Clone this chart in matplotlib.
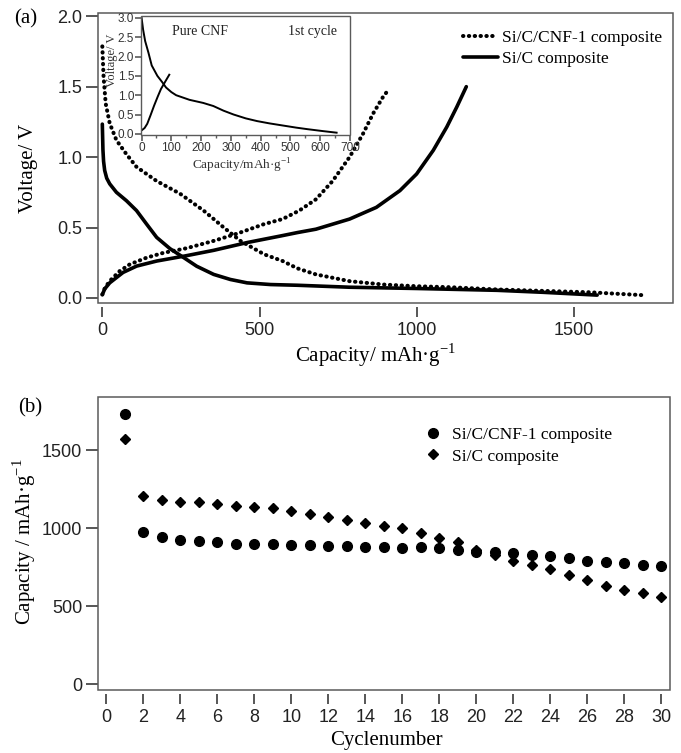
import matplotlib
matplotlib.use("Agg")
import matplotlib.pyplot as plt
from matplotlib.patches import Rectangle
from matplotlib.lines import Line2D

# ---------------- data ----------------
# panel (a): Si/C/CNF-1 composite (dotted)
cnf_dis_cap = [0, 4, 10.7, 23.5, 44.8, 76.8, 108.8, 172.7, 247, 322, 386, 439, 514, 573, 620, 679, 786, 893, 999, 1106, 1255, 1400, 1550, 1716]
cnf_dis_v = [1.786, 1.57, 1.38, 1.24, 1.12, 1.02, 0.93, 0.83, 0.74, 0.62, 0.50, 0.405, 0.31, 0.262, 0.21, 0.167, 0.119, 0.095, 0.083, 0.076, 0.060, 0.05, 0.04, 0.02]
cnf_chg_cap = [0, 8, 23.5, 55, 87, 141, 194, 268, 354, 429, 514, 573, 626, 679, 732, 786, 829, 861, 893, 909]
cnf_chg_v = [0.024, 0.07, 0.12, 0.19, 0.238, 0.286, 0.32, 0.353, 0.405, 0.457, 0.524, 0.56, 0.62, 0.70, 0.83, 1.0, 1.167, 1.31, 1.43, 1.476]
# panel (a): Si/C composite (solid)
sic_dis_cap = [0, 2, 4, 7.5, 14, 23.5, 44.8, 76.8, 108.8, 140.8, 172.7, 215, 263, 300, 354, 407, 460, 535, 620, 786, 999, 1255, 1400, 1573]
sic_dis_v = [1.234, 1.05, 0.97, 0.905, 0.85, 0.81, 0.75, 0.69, 0.62, 0.524, 0.43, 0.35, 0.28, 0.225, 0.167, 0.131, 0.107, 0.095, 0.09, 0.076, 0.067, 0.054, 0.04, 0.02]
sic_chg_cap = [0, 8, 23.5, 66, 109, 173, 263, 354, 460, 567, 620, 679, 786, 871, 946, 999, 1052, 1095, 1127, 1157]
sic_chg_v = [0.024, 0.065, 0.107, 0.181, 0.226, 0.262, 0.298, 0.338, 0.393, 0.44, 0.464, 0.488, 0.56, 0.643, 0.762, 0.88, 1.048, 1.214, 1.357, 1.50]
# inset: pure CNF, 1st cycle
pcnf_dis_cap = [0, 5, 12, 23, 34, 53, 70, 82, 100, 116, 161, 207, 241, 275, 309, 350, 388, 430, 479, 520, 558, 610, 655]
pcnf_dis_v = [3.0, 2.7, 2.4, 2.1, 1.77, 1.50, 1.33, 1.20, 1.08, 1.00, 0.88, 0.80, 0.72, 0.60, 0.50, 0.40, 0.33, 0.27, 0.21, 0.16, 0.12, 0.07, 0.03]
pcnf_chg_cap = [0, 10, 19, 30, 42, 54, 65, 80, 93]
pcnf_chg_v = [0.09, 0.15, 0.26, 0.48, 0.73, 0.96, 1.16, 1.36, 1.53]

# panel (b): cycling
cycles = list(range(1, 31))
cap_cnf = [1728, 972, 940, 925, 916, 910, 901, 901, 897, 893, 893, 888, 882, 880, 878, 871, 878, 869, 861, 848,
           846, 839, 826, 818, 805, 792, 781, 777, 766, 754]
cap_sic = [1571, 1207, 1182, 1169, 1169, 1156, 1143, 1137, 1126, 1109, 1088, 1070, 1053, 1034, 1011, 998, 968, 936, 908, 861,
           829, 792, 762, 739, 700, 664, 629, 604, 582, 561]

label_cnf = "Si/C/CNF-1 composite"
label_sic = "Si/C composite"

# ---------------- style ----------------
SERIF = ["Liberation Serif", "DejaVu Serif"]
SANS = ["Liberation Sans", "DejaVu Sans"]
FRAME = "#5a5a5a"
TICK = "#3a3a3a"
W, H = 681, 753

fig = plt.figure(figsize=(W / 100, H / 100), dpi=100)


def axes_px(l, t, r, b):
    return fig.add_axes([l / W, 1 - b / H, (r - l) / W, (b - t) / H])


def style(ax, xoff=3, tl=8.0, fs=12.5, lw=1.1):
    for s in ax.spines.values():
        s.set_visible(False)
    ax.spines["bottom"].set_position(("outward", xoff))
    ax.add_patch(Rectangle((0, 0), 1, 1, transform=ax.transAxes, fill=False,
                           edgecolor=FRAME, lw=lw, clip_on=False, zorder=5))
    ax.tick_params(direction="out", length=tl, width=1.2, color=TICK,
                   labelsize=fs, labelcolor="#222222", top=False, right=False)


def sans_ticks(ax):
    for lab in ax.get_xticklabels() + ax.get_yticklabels():
        lab.set_family(SANS)


dot = dict(color="black", lw=2.9, linestyle=(0, (0.1, 1.35)), dash_capstyle="round")
sol = dict(color="black", lw=2.6, solid_capstyle="round")

# ---------------- panel (a) ----------------
axa = axes_px(97.6, 13, 673, 303)
axa.plot(cnf_dis_cap, cnf_dis_v, **dot)
axa.plot(cnf_chg_cap, cnf_chg_v, **dot)
axa.plot(sic_dis_cap, sic_dis_v, **sol)
axa.plot(sic_chg_cap, sic_chg_v, **sol)
axa.set_xlim(-15, 1814)
axa.set_ylim(-0.036, 2.023)
axa.set_xticks([0, 500, 1000, 1500])
axa.set_yticks([0.0, 0.5, 1.0, 1.5, 2.0])
axa.set_yticklabels(["0.0", "0.5", "1.0", "1.5", "2.0"])
style(axa, xoff=3, tl=8.5, fs=13)
axa.tick_params(axis="x", length=7.5, pad=3)
axa.tick_params(axis="y", pad=2.5)
sans_ticks(axa)

# legend (a)
handles_a = [Line2D([], [], **dot), Line2D([], [], **sol)]
axa.legend(handles_a, [label_cnf, label_sic], loc="upper left",
           bbox_to_anchor=((463 - 97.6) / (673 - 97.6), 1 - (30 - 13) / 290),
           frameon=False, prop={"family": SERIF, "size": 12.5},
           handlelength=2.0, handletextpad=0.25, labelspacing=0.28, borderaxespad=0, borderpad=0)

# inset
axi = axes_px(141, 16, 350, 135)
axi.set_facecolor("white")
axi.plot(pcnf_dis_cap, pcnf_dis_v, color="black", lw=1.4)
axi.plot(pcnf_chg_cap, pcnf_chg_v, color="black", lw=1.4)
axi.set_xlim(-2, 695)
axi.set_ylim(-0.03, 3.05)
axi.set_xticks(range(0, 701, 100))
axi.set_xticks(range(50, 700, 100), minor=True)
axi.set_yticks([0.0, 0.5, 1.0, 1.5, 2.0, 2.5, 3.0])
axi.set_yticklabels(["0.0", "0.5", "1.0", "1.5", "2.0", "2.5", "3.0"])
style(axi, xoff=0, tl=4, fs=8.5, lw=1.0)
axi.tick_params(axis="both", pad=1.0, color=FRAME, labelcolor="#333333")
axi.tick_params(axis="x", which="minor", length=2.5, width=1.0, color=FRAME)
sans_ticks(axi)
axi.text(0.28, 0.87, "Pure CNF", transform=axi.transAxes, ha="center", va="center",
         family=SERIF, fontsize=10, color="#222222")
axi.text(0.82, 0.87, "1st cycle", transform=axi.transAxes, ha="center", va="center",
         family=SERIF, fontsize=10, color="#222222")
fig.text(112 / W, 1 - 60 / H, "Voltage/ V", rotation=90, ha="center", va="center",
         family=SERIF, fontsize=9, color="#333333")
fig.text(242 / W, 1 - 166 / H, "Capacity/mAh·g$^{\\mathregular{-1}}$", ha="center", va="center",
         family=SERIF, fontsize=9.5, color="#333333")

# labels (a)
fig.text(26 / W, 1 - 19 / H, "(a)", ha="center", va="center", family=SERIF, fontsize=15)
fig.text(28 / W, 1 - 168 / H, "Voltage/ V", rotation=90, ha="center", va="center",
         family=SERIF, fontsize=15)
fig.text(376 / W, 1 - 355 / H, "Capacity/ mAh·g$^{\\mathregular{-1}}$", ha="center", va="center",
         family=SERIF, fontsize=15)

# ---------------- panel (b) ----------------
axb = axes_px(97.6, 397, 670, 690)
axb.plot(cycles, cap_cnf, linestyle="none", marker="o", markersize=7, color="black")
axb.plot(cycles, cap_sic, linestyle="none", marker="D", markersize=5.5, color="black")
axb.set_xlim(-0.46, 30.46)
axb.set_ylim(-38, 1840)
axb.set_xticks(range(0, 31, 2))
axb.set_yticks([0, 500, 1000, 1500])
style(axb, xoff=3, tl=8.5, fs=13)
axb.tick_params(axis="x", length=7.5, pad=3)
axb.tick_params(axis="y", pad=2.5)
sans_ticks(axb)

handles_b = [Line2D([], [], linestyle="none", marker="o", markersize=7, color="black"),
             Line2D([], [], linestyle="none", marker="D", markersize=5.5, color="black")]
axb.legend(handles_b, [label_cnf, label_sic], loc="upper left",
           bbox_to_anchor=((424 - 97.6) / (670 - 97.6), 1 - (427 - 397) / 293),
           frameon=False, prop={"family": SERIF, "size": 12.5},
           handlelength=1.0, handletextpad=0.6, labelspacing=0.3, borderaxespad=0, borderpad=0)

fig.text(30 / W, 1 - 408 / H, "(b)", ha="center", va="center", family=SERIF, fontsize=15)
fig.text(24 / W, 1 - 542 / H, "Capacity / mAh·g$^{\\mathregular{-1}}$", rotation=90, ha="center", va="center",
         family=SERIF, fontsize=15)
fig.text(386 / W, 1 - 741 / H, "Cyclenumber", ha="center", va="center", family=SERIF, fontsize=15)

fig.savefig("out.png", dpi=100)
